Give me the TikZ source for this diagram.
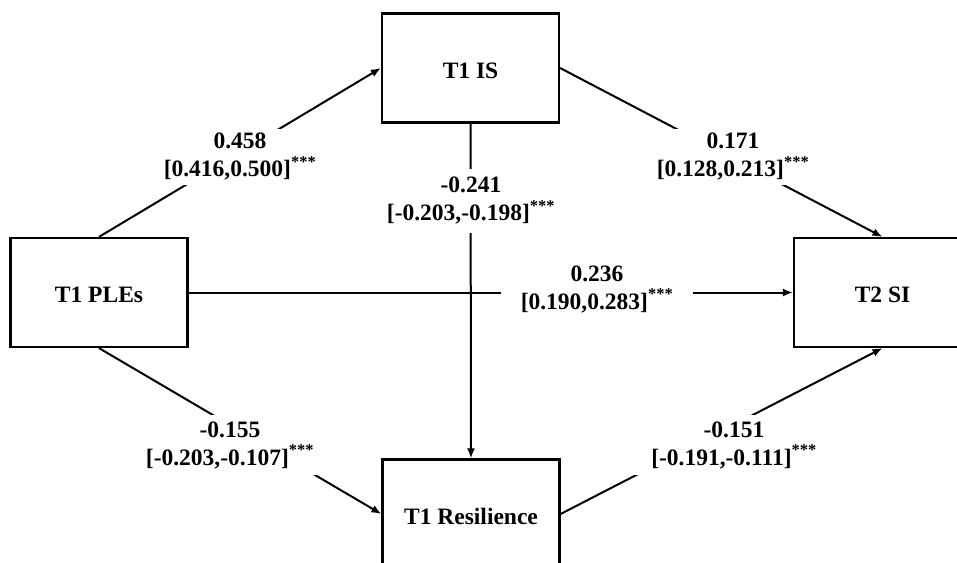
\documentclass[tikz,border=0pt]{standalone}
\usepackage{fontspec}
\setmainfont{Liberation Serif}
\usetikzlibrary{arrows.meta}
\begin{document}
\begin{tikzpicture}[x=1pt,y=-1pt,
  txt/.style={font=\bfseries\fontsize{23.5}{28}\selectfont},
  box/.style={txt,draw,line width=2.2pt,fill=white,minimum width=177pt,minimum height=109pt,inner sep=0pt,text height=20pt,text depth=0pt},
  conn/.style={line width=2pt,-{Latex[length=10pt,width=8pt]}},
  lbl/.style={txt,fill=white,align=center,inner xsep=20pt,inner ysep=4pt}]
\clip (0,0) rectangle (957,562);
\fill[white] (0,0) rectangle (957,562);
\node[box] (ples) at (99,292.5) {T1 PLEs};
\node[box] (is) at (470.5,68) {T1 IS};
\node[box] (si) at (882.5,292.5) {T2 SI};
\node[box] (res) at (471,514) {T1 Resilience};
\draw[conn] (ples.north) -- (is.west);
\draw[conn] (is.east) -- (si.north);
\draw[conn] (ples.east) -- (si.west);
\draw[conn] (is.south) -- (res.north);
\draw[conn] (ples.south) -- (res.west);
\draw[conn] (res.east) -- (si.south);
\node[lbl] (l1) at (240,157) {0.458\\{}[0.416,0.500]\textsuperscript{***}};
\node[lbl] (l2) at (733,157) {0.171\\{}[0.128,0.213]\textsuperscript{***}};
\node[lbl,inner ysep=8pt] (l3) at (471,201) {-0.241\\{}[-0.203,-0.198]\textsuperscript{***}};
\node[lbl] (l4) at (597,289) {0.236\\{}[0.190,0.283]\textsuperscript{***}};
\node[lbl,inner ysep=6pt] (l5) at (230,445) {-0.155\\{}[-0.203,-0.107]\textsuperscript{***}};
\node[lbl,inner ysep=6pt] (l6) at (734,445) {-0.151\\{}[-0.191,-0.111]\textsuperscript{***}};
\end{tikzpicture}
\end{document}
